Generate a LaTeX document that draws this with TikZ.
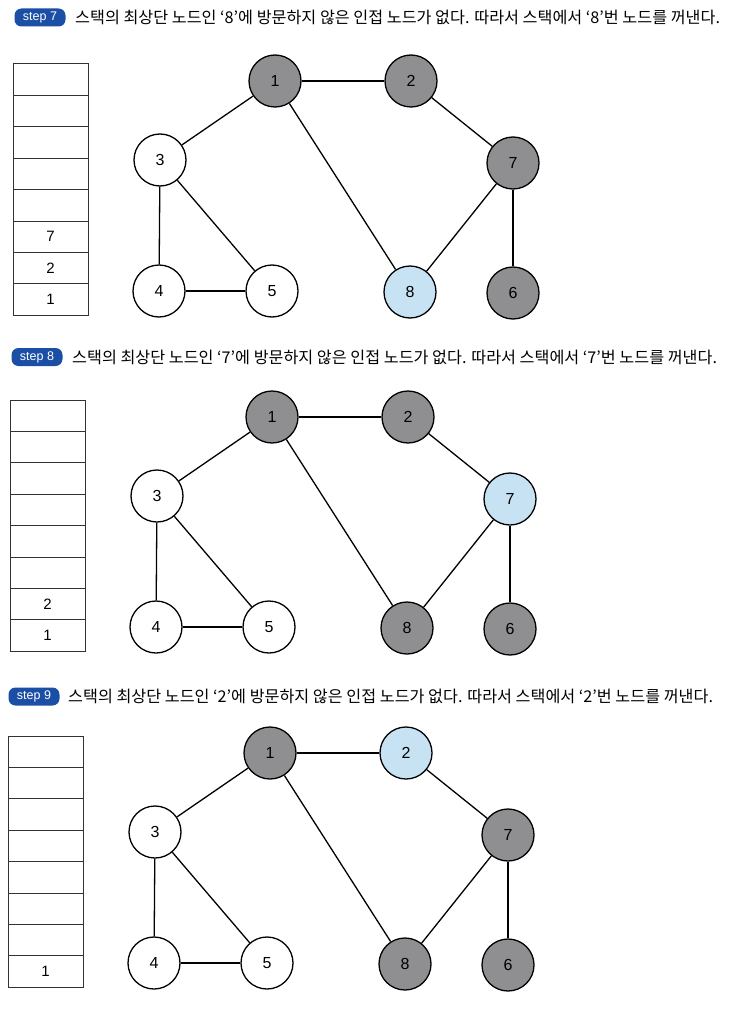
\documentclass[tikz,border=0pt]{standalone}
\usepackage{fontspec}
\setmainfont{Liberation Sans}
\newfontfamily\kr{Noto Sans CJK KR}
\newfontfamily\dg{Liberation Sans}
\definecolor{gr}{HTML}{8F8F92}
\definecolor{lb}{HTML}{C6E2F3}
\definecolor{bb}{HTML}{1B4FA5}
\tikzset{
 gnode/.style={circle, draw=black, line width=1.3pt, minimum size=52pt, inner sep=0pt, font=\dg\fontsize{16}{16}\selectfont},
 edge/.style={line width=1.3pt},
 cell/.style={draw=black!80, line width=1pt, minimum width=75pt, minimum height=31.4pt, inner sep=0pt, font=\dg\fontsize{15}{15}\selectfont},
 badge/.style={fill=bb, rounded corners=7pt, text=white, font=\dg\fontsize{12.5}{12.5}\selectfont, minimum width=51pt, minimum height=18pt, inner sep=0pt},
 head/.style={font=\kr\fontsize{16.2}{16.2}\selectfont, anchor=west, inner sep=0pt},
}
\newcommand\stepgraph[8]{%
 \node[gnode, fill=#1] (n1) at (275,81) {1};
 \node[gnode, fill=#2] (n2) at (411,81) {2};
 \node[gnode, fill=#3] (n3) at (160,160) {3};
 \node[gnode, fill=#4] (n4) at (159,291) {4};
 \node[gnode, fill=#5] (n5) at (272,291) {5};
 \node[gnode, fill=#6] (n6) at (513,293) {6};
 \node[gnode, fill=#7] (n7) at (513,163) {7};
 \node[gnode, fill=#8] (n8) at (410,292) {8};
 \draw[edge] (n1) -- (n2);
 \draw[edge] (n1) -- (n3);
 \draw[edge] (n1) -- (n8);
 \draw[edge] (n2) -- (n7);
 \draw[edge] (n7) -- (n8);
 \draw[edge] (n7) -- (n6);
 \draw[edge] (n3) -- (n4);
 \draw[edge] (n3) -- (n5);
 \draw[edge] (n4) -- (n5);
}
\newcommand\stackcells[3]{%
 \foreach \i in {0,...,4} {\node[cell] (c\i) at (50.5,{79.7+31.4*\i}) {};}
 \node[cell] (c5) at (50.5,{79.7+31.4*5}) {#1};
 \node[cell] (c6) at (50.5,{79.7+31.4*6}) {#2};
 \node[cell] (c7) at (50.5,{79.7+31.4*7}) {#3};
}
\begin{document}
\begin{tikzpicture}[x=1pt,y=-1pt]
\fill[white] (0,0) rectangle (736,1014);
\useasboundingbox (0,0) rectangle (736,1014);
% step 7
\begin{scope}[name prefix=a-]
 \node[badge] (b) at (40,17.5) {step 7};
 \node[head] (t) at (75,17.5) {스택의 최상단 노드인 ‘8’에 방문하지 않은 인접 노드가 없다. 따라서 스택에서 ‘8’번 노드를 꺼낸다.};
 \stackcells{7}{2}{1}
 \stepgraph{gr}{gr}{white}{white}{white}{gr}{gr}{lb}
\end{scope}
% step 8
\begin{scope}[shift={(-3,336)}, name prefix=b-]
 \node[badge] (b) at (40,21) {step 8};
 \node[head] (t) at (75,21) {스택의 최상단 노드인 ‘7’에 방문하지 않은 인접 노드가 없다. 따라서 스택에서 ‘7’번 노드를 꺼낸다.};
 \stackcells{}{2}{1}
 \stepgraph{gr}{gr}{white}{white}{white}{gr}{lb}{gr}
\end{scope}
% step 9
\begin{scope}[shift={(-5,672)}, name prefix=c-]
 \node[badge] (b) at (39,24.5) {step 9};
 \node[head] (t) at (73,24.5) {스택의 최상단 노드인 ‘2’에 방문하지 않은 인접 노드가 없다. 따라서 스택에서 ‘2’번 노드를 꺼낸다.};
 \stackcells{}{}{1}
 \stepgraph{gr}{lb}{white}{white}{white}{gr}{gr}{gr}
\end{scope}
\end{tikzpicture}
\end{document}
